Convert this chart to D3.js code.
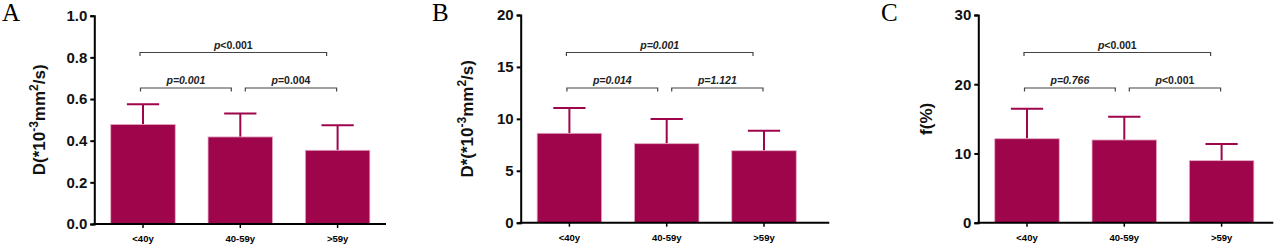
<!DOCTYPE html>
<html>
<head>
<meta charset="utf-8">
<script src="https://cdn.jsdelivr.net/npm/d3@7"></script>
<style>
  body { margin: 0; background: #fff; }
  svg { display: block; }
  .tick text { font-family: "Liberation Sans", Arial, sans-serif; font-weight: bold; fill: #111; }
</style>
</head>
<body>
<div id="chart"></div>
<script>
(function () {
    'use strict';

    // age groups shared by all three panels
    var categories = ['<40y', '40-59y', '>59y'];

    // panel A: D (*10^-3 mm2/s)
    var dMeans = [0.478, 0.418, 0.354];
    var dSD = [0.097, 0.112, 0.120];
    var dTicks = [0, 0.2, 0.4, 0.6, 0.8, 1.0];
    var dPvals = ['p<0.001', 'p=0.001', 'p=0.004'];
    var dPitalic = [false, true, false];

    // panel B: D* (*10^-3 mm2/s)
    var dsMeans = [8.61, 7.61, 6.93];
    var dsSD = [2.43, 2.38, 1.93];
    var dsTicks = [0, 5, 10, 15, 20];
    var dsPvals = ['p=0.001', 'p=0.014', 'p=1.121'];
    var dsPitalic = [true, true, true];

    // panel C: f (%)
    var fMeans = [12.13, 11.95, 8.96];
    var fSD = [4.34, 3.36, 2.41];
    var fTicks = [0, 10, 20, 30];
    var fPvals = ['p<0.001', 'p=0.766', 'p<0.001'];
    var fPitalic = [false, true, false];

    // comparisons: [from, to] per p-value (top bracket first)
    var pairs = [[0, 2], [0, 1], [1, 2]];

    var W = 1276, H = 247;
    var barColor = '#9e054b';
    var font = '"Liberation Sans", Arial, sans-serif';

    var svg = d3.select('#chart').append('svg')
        .attr('width', W)
        .attr('height', H);

    var panels = [
        { letter: 'A', lx: 2, x0: 94.3, xEnd: 386, top: 15.7, bottom: 224, labelDx: 49,
          means: dMeans, sd: dSD, ticks: dTicks, fmt: d3.format('.1f'), pv: dPvals, pit: dPitalic,
          ylab: [['D(*10', 0], ['-3', 1], ['mm', 0], ['2', 1], ['/s)', 0]] },
        { letter: 'B', lx: 432, x0: 520.7, xEnd: 829.3, top: 15, bottom: 222.7, labelDx: 47.5,
          means: dsMeans, sd: dsSD, ticks: dsTicks, fmt: d3.format('d'), pv: dsPvals, pit: dsPitalic,
          ylab: [['D*(*10', 0], ['-3', 1], ['mm', 0], ['2', 1], ['/s)', 0]] },
        { letter: 'C', lx: 881, x0: 978.3, xEnd: 1273.3, top: 15, bottom: 222.7, labelDx: 46.5,
          means: fMeans, sd: fSD, ticks: fTicks, fmt: d3.format('d'), pv: fPvals, pit: fPitalic,
          ylab: [['f(%)', 0]] }
    ];

    // bracket geometry (offsets from the bar centres, height in px)
    var bracketStyle = [
        { y: 52.5, x1: -3, x2: -11 },
        { y: 88, x1: -2.5, x2: -9 },
        { y: 88, x1: 5, x2: -1 }
    ];

    panels.forEach(function (p) {
        var g = svg.append('g');

        var x = d3.scaleBand()
            .domain(categories)
            .range([p.x0, p.x0 + 292])
            .paddingInner(0.337)
            .paddingOuter(0.169);

        var y = d3.scaleLinear()
            .domain([p.ticks[0], p.ticks[p.ticks.length - 1]])
            .range([p.bottom, p.top]);

        var rows = categories.map(function (c, i) {
            return { cat: c, mean: p.means[i], sd: p.sd[i] };
        });

        // panel letter
        g.append('text')
            .attr('x', p.lx)
            .attr('y', 21)
            .style('font-family', '"Liberation Serif", "Times New Roman", serif')
            .style('font-size', '25px')
            .text(p.letter);

        // error bars (drawn first so the bar covers the lower half)
        var half = x.bandwidth() / 4;
        var eb = g.selectAll('.eb').data(rows).enter().append('g');
        eb.append('line')
            .attr('x1', function (d) { return x(d.cat) + x.bandwidth() / 2; })
            .attr('x2', function (d) { return x(d.cat) + x.bandwidth() / 2; })
            .attr('y1', function (d) { return y(d.mean); })
            .attr('y2', function (d) { return y(d.mean + d.sd); })
            .attr('stroke', barColor)
            .attr('stroke-width', 2);
        eb.append('line')
            .attr('x1', function (d) { return x(d.cat) + x.bandwidth() / 2 - half; })
            .attr('x2', function (d) { return x(d.cat) + x.bandwidth() / 2 + half; })
            .attr('y1', function (d) { return y(d.mean + d.sd); })
            .attr('y2', function (d) { return y(d.mean + d.sd); })
            .attr('stroke', barColor)
            .attr('stroke-width', 2);

        // bars
        g.selectAll('.bar').data(rows).enter().append('rect')
            .attr('x', function (d) { return x(d.cat); })
            .attr('y', function (d) { return y(d.mean); })
            .attr('width', x.bandwidth())
            .attr('height', function (d) { return y(0) - y(d.mean); })
            .attr('fill', barColor)
            .attr('stroke', '#e6a9c4')
            .attr('stroke-width', 0.8);

        // y axis
        var yAxis = g.append('g')
            .attr('transform', 'translate(' + p.x0 + ',0)')
            .call(d3.axisLeft(y).tickValues(p.ticks).tickFormat(p.fmt).tickSize(4).tickPadding(3));
        yAxis.select('.domain').attr('stroke', '#000').attr('stroke-width', 2);
        yAxis.selectAll('.tick line').attr('stroke', '#000').attr('stroke-width', 2);
        yAxis.selectAll('.tick text').style('font-size', '15px');

        // x axis
        g.append('line')
            .attr('x1', p.x0 - 1)
            .attr('x2', p.xEnd)
            .attr('y1', y(0))
            .attr('y2', y(0))
            .attr('stroke', '#000')
            .attr('stroke-width', 2);
        var xt = g.selectAll('.xt').data(categories).enter().append('g')
            .attr('transform', function (d) {
                return 'translate(' + (x(d) + x.bandwidth() / 2) + ',' + y(0) + ')';
            });
        xt.append('line')
            .attr('y2', 4)
            .attr('stroke', '#000')
            .attr('stroke-width', 1.5);
        xt.append('text')
            .attr('y', 18)
            .attr('text-anchor', 'middle')
            .style('font-family', font)
            .style('font-weight', 'bold')
            .style('font-size', '9.5px')
            .text(function (d) { return d; });

        // y axis title
        var yt = g.append('text')
            .attr('transform', 'translate(' + (p.x0 - p.labelDx) + ',' + ((p.top + p.bottom) / 2) + ') rotate(-90)')
            .attr('text-anchor', 'middle')
            .attr('dy', '0.35em')
            .style('font-family', font)
            .style('font-weight', 'bold')
            .style('font-size', '17px')
            .style('fill', '#111');
        var shift = 0;
        p.ylab.forEach(function (part) {
            var sup = part[1] === 1;
            var dy = sup ? -7 - shift : -shift;
            shift = sup ? -7 : 0;
            yt.append('tspan')
                .attr('dy', dy)
                .style('font-size', sup ? '12px' : '17px')
                .text(part[0]);
        });

        // significance brackets
        pairs.forEach(function (pr, i) {
            var s = bracketStyle[i];
            var xa = x(categories[pr[0]]) + x.bandwidth() / 2 + s.x1;
            var xb = x(categories[pr[1]]) + x.bandwidth() / 2 + s.x2;
            g.append('path')
                .attr('d', 'M' + xa + ',' + (s.y + 3.5) + 'L' + xa + ',' + s.y + 'L' + xb + ',' + s.y + 'L' + xb + ',' + (s.y + 3.5))
                .attr('fill', 'none')
                .attr('stroke', '#444')
                .attr('stroke-width', 1.2);
            var t = g.append('text')
                .attr('x', (xa + xb) / 2)
                .attr('y', s.y - 4)
                .attr('text-anchor', 'middle')
                .style('font-family', font)
                .style('font-weight', 'bold')
                .style('font-size', '10.5px')
                .style('fill', '#222');
            var label = p.pv[i];
            t.append('tspan').style('font-style', 'italic').text(label.charAt(0));
            t.append('tspan').style('font-style', p.pit[i] ? 'italic' : 'normal').text(label.slice(1));
        });
    });
})();
</script>
</body>
</html>
